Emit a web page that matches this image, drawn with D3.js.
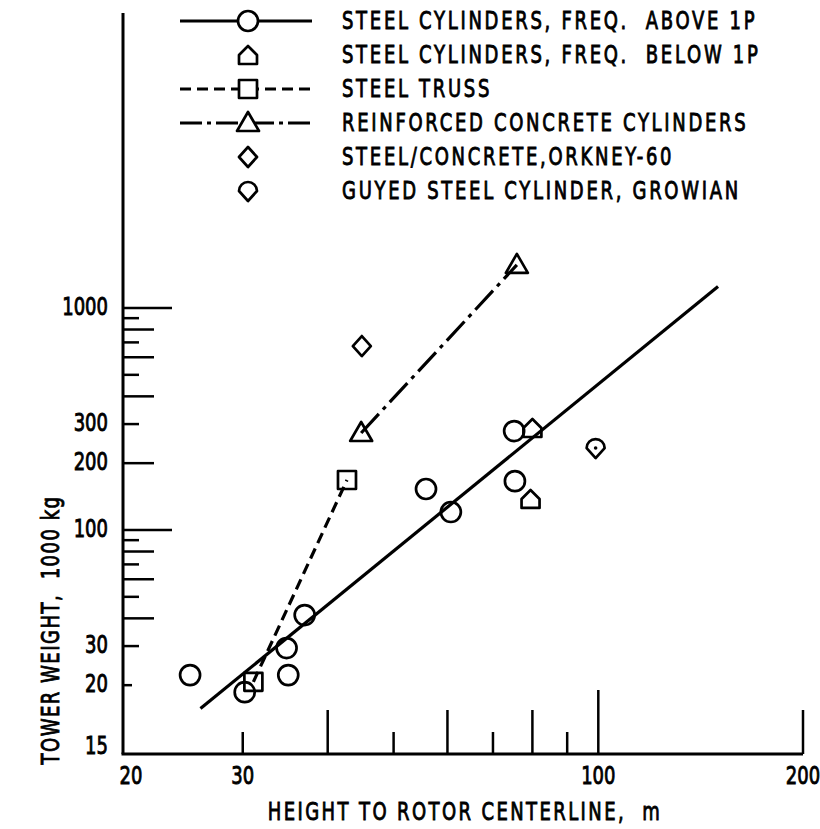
<!DOCTYPE html>
<html>
<head>
<meta charset="utf-8">
<script src="https://cdn.jsdelivr.net/npm/d3@7"></script>
<style>
  body { margin: 0; background: #fff; }
  text { font-family: "DejaVu Sans", sans-serif; fill: #000; stroke: #000; stroke-width: 0.9px; white-space: pre; }
</style>
</head>
<body>
<div class="towerchart"></div>
<script>
// data (height m, weight 1000 kg)
const aboveX = [25.1, 30.2, 34.8, 35.0, 37.0, 55.8, 60.7, 75.2, 75.4];
const aboveY = [22.2, 18.6, 29.4, 22.2, 41.4, 153, 120.5, 279, 166];
const belowX = [80.0, 79.5];
const belowY = [288, 138];
const trussX = [31.1, 42.7];
const trussY = [20.7, 168];
const concreteX = [44.8, 75.9];
const concreteY = [273.5, 1563];
const orkneyX = [44.9];
const orkneyY = [674];
const growianX = [99.1];
const growianY = [234];
// fitted line for the steel cylinders
const fitX = [26, 150];
const fitY = [15.7, 1250];

const xTicks = [30, 40, 50, 60, 70, 80, 90, 100, 200];
const xTickLabels = [20, 30, 100, 200];
const yTicks = [20, 30, 40, 50, 60, 70, 80, 90, 100, 200, 300, 400, 500, 600, 700, 800, 900, 1000];
const yTickLabels = [15, 20, 30, 100, 200, 300, 1000];

const legendLabels = [
  "STEEL CYLINDERS, FREQ.  ABOVE 1P",
  "STEEL CYLINDERS, FREQ.  BELOW 1P",
  "STEEL TRUSS",
  "REINFORCED CONCRETE CYLINDERS",
  "STEEL/CONCRETE,ORKNEY-60",
  "GUYED STEEL CYLINDER, GROWIAN"
];

const Margin = { top: 13, right: 17, bottom: 75, left: 123 };
const Width = 820 - Margin.left - Margin.right;
const Height = 829 - Margin.top - Margin.bottom;
const SX = 0.75;   // squeeze DejaVu into a condensed face

const svg = d3.select(".towerchart").append("svg")
    .attr("width", 820)
    .attr("height", 829);
const g = svg.append("g")
    .attr("transform", "translate(" + Margin.left + "," + Margin.top + ")");

// scales (log - log)
const x = d3.scaleLog().domain([20, 200]).range([0, 680]);
const y = d3.scaleLog().domain([10, 1000]).range([Height - 2, 295]);

// condensed text helper
const ctext = (sel, tx, ty, rot, str, anchor, spacing) => sel.append("text")
    .attr("transform", "translate(" + tx + "," + ty + ")" + (rot ? " rotate(" + rot + ")" : "") + " scale(" + SX + ",1)")
    .attr("dy", ".36em")
    .attr("text-anchor", anchor)
    .style("font-size", "24px")
    .style("letter-spacing", spacing + "px")
    .text(str);

// marker shapes
const shapes = {
  circle: "M10,0A10,10 0 1,1 -10,0A10,10 0 1,1 10,0Z",
  house: "M-9,9H9V0L0,-9L-9,0Z",
  square: "M-9,-9H9V9H-9Z",
  triangle: "M0,-11L11,8H-11Z",
  diamond: "M0,-10L9,0L0,10L-9,0Z",
  growian: "M0,10L-9,0A9,9 0 0,1 9,0Z"
};

// axes
g.append("line").attr("x1", 0).attr("x2", 0).attr("y1", 0).attr("y2", Height)
  .attr("stroke", "#000").attr("stroke-width", 3);
g.append("line").attr("x1", -1.5).attr("x2", x(200)).attr("y1", Height).attr("y2", Height)
  .attr("stroke", "#000").attr("stroke-width", 3);

const yLen = d => {
  const m = d / Math.pow(10, Math.floor(Math.log10(d)));
  if (m === 1) return 49;
  if (d === 20) return 9;
  return (m % 2 === 0) ? 31 : 16;
};
g.selectAll(".ytick").data(yTicks).enter().append("line")
  .attr("class", "ytick")
  .attr("x1", 0).attr("x2", yLen)
  .attr("y1", d => y(d)).attr("y2", d => y(d))
  .attr("stroke", "#000").attr("stroke-width", 2.5);

const xLen = d => d === 100 ? 64 : ([40, 60, 80, 200].includes(d) ? 44 : 22);
g.selectAll(".xtick").data(xTicks).enter().append("line")
  .attr("class", "xtick")
  .attr("x1", d => x(d)).attr("x2", d => x(d))
  .attr("y1", Height).attr("y2", d => Height - xLen(d))
  .attr("stroke", "#000").attr("stroke-width", 2.5);

yTickLabels.forEach(d => ctext(g, -15, d === 15 ? Height - 9 : y(d) - 2, 0, String(d), "end", 0));
xTickLabels.forEach(d => ctext(g, d === 20 ? x(d) + 8 : x(d), Height + 21, 0, String(d), "middle", 0));

// axis titles
ctext(g, 342, Height + 57, 0, "HEIGHT TO ROTOR CENTERLINE,  m", "middle", 3.2);
ctext(g, -73, 617, -90, "TOWER WEIGHT,  1000 kg", "middle", 2);

// lines
const line = d3.line().x(d => x(d[0])).y(d => y(d[1]));
g.append("path").datum(d3.zip(fitX, fitY)).attr("d", line)
  .attr("fill", "none").attr("stroke", "#000").attr("stroke-width", 3.2);
g.append("path").datum(d3.zip(trussX, trussY)).attr("d", line)
  .attr("fill", "none").attr("stroke", "#000").attr("stroke-width", 3.2)
  .attr("stroke-dasharray", "11,6");
g.append("path").datum(d3.zip(concreteX, concreteY)).attr("d", line)
  .attr("fill", "none").attr("stroke", "#000").attr("stroke-width", 3.2)
  .attr("stroke-dasharray", "26,6,4,6");

// points
const series = [
  { xs: aboveX, ys: aboveY, shape: "circle" },
  { xs: belowX, ys: belowY, shape: "house" },
  { xs: trussX, ys: trussY, shape: "square" },
  { xs: concreteX, ys: concreteY, shape: "triangle" },
  { xs: orkneyX, ys: orkneyY, shape: "diamond" },
  { xs: growianX, ys: growianY, shape: "growian" }
];
series.forEach(s => {
  g.selectAll(null).data(d3.zip(s.xs, s.ys)).enter().append("path")
    .attr("transform", d => "translate(" + x(d[0]) + "," + y(d[1]) + ")")
    .attr("d", shapes[s.shape])
    .attr("fill", "none").attr("stroke", "#000").attr("stroke-width", 2.7)
    .attr("stroke-linejoin", "round");
});
g.selectAll(null).data(d3.zip(growianX, growianY)).enter().append("circle")
  .attr("cx", d => x(d[0])).attr("cy", d => y(d[1])).attr("r", 1.8).attr("fill", "#000");

// legend
const legendShapes = ["circle", "house", "square", "triangle", "diamond", "growian"];
const lg = svg.append("g").attr("transform", "translate(0,21)");
legendLabels.forEach((label, i) => {
  const row = lg.append("g").attr("transform", "translate(0," + (i * 34) + ")");
  if (i === 0 || i === 2 || i === 3) {
    row.append("line").attr("x1", 180).attr("x2", 312).attr("y1", 0).attr("y2", 0)
      .attr("stroke", "#000").attr("stroke-width", 3)
      .attr("stroke-dasharray", i === 2 ? "11,6" : (i === 3 ? "22,5,4,5" : null));
  }
  row.append("path").attr("transform", "translate(248,0)")
    .attr("d", shapes[legendShapes[i]])
    .attr("fill", "#fff").attr("stroke", "#000").attr("stroke-width", 2.7)
    .attr("stroke-linejoin", "round");
  ctext(row, 342, -1, 0, label, "start", 3.6);
});
</script>
</body>
</html>
